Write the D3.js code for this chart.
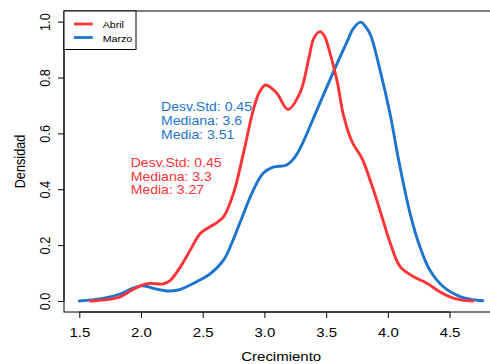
<!DOCTYPE html>
<html>
<head>
<meta charset="utf-8">
<script src="https://cdn.jsdelivr.net/npm/d3@7/dist/d3.min.js"></script>
<style>
  html, body { margin: 0; padding: 0; background: #fff; }
  svg { display: block; font-family: "Liberation Sans", Arial, Helvetica, sans-serif; }
</style>
</head>
<body>
<svg id="chart" width="490" height="364"></svg>
<script>
// Kernel density estimates of growth (Crecimiento), one curve per month
const seriesNames = ["Abril", "Marzo"];
const seriesColors = ["#FF3338", "#1C74CF"];

const abrilX = [1.59, 1.70, 1.83, 1.93, 2.01, 2.07, 2.18, 2.24, 2.32, 2.40, 2.48, 2.56, 2.61, 2.67, 2.75,
  2.83, 2.91, 2.96, 3.01, 3.10, 3.19, 3.29, 3.36, 3.40, 3.45, 3.49, 3.52, 3.59, 3.64, 3.71,
  3.79, 3.87, 3.91, 3.96, 4.02, 4.10, 4.21, 4.32, 4.42, 4.53, 4.60, 4.69];
const abrilY = [0.000, 0.004, 0.015, 0.040, 0.057, 0.063, 0.061, 0.075, 0.123, 0.183, 0.242, 0.266, 0.279, 0.302, 0.386,
  0.529, 0.684, 0.748, 0.773, 0.744, 0.686, 0.747, 0.869, 0.940, 0.964, 0.946, 0.905, 0.785, 0.666, 0.570,
  0.511, 0.415, 0.362, 0.290, 0.207, 0.123, 0.087, 0.063, 0.033, 0.010, 0.003, 0.000];

const marzoX = [1.50, 1.60, 1.70, 1.83, 1.93, 2.00, 2.05, 2.10, 2.18, 2.24, 2.32, 2.45, 2.56, 2.67, 2.74,
  2.80, 2.91, 2.99, 3.07, 3.18, 3.25, 3.30, 3.42, 3.56, 3.67, 3.72, 3.78, 3.82, 3.86, 3.94,
  4.02, 4.09, 4.18, 4.26, 4.34, 4.45, 4.59, 4.68, 4.77];
const marzoY = [0.000, 0.004, 0.010, 0.025, 0.045, 0.054, 0.052, 0.045, 0.038, 0.036, 0.042, 0.069, 0.097, 0.147, 0.212,
  0.278, 0.397, 0.457, 0.479, 0.487, 0.517, 0.556, 0.678, 0.821, 0.928, 0.975, 0.998, 0.982, 0.952, 0.821,
  0.666, 0.499, 0.314, 0.194, 0.111, 0.051, 0.015, 0.005, 0.001];

// Summary statistics printed next to each curve
const abrilStats = ["Desv.Std: 0.45", "Mediana: 3.3", "Media: 3.27"];
const marzoStats = ["Desv.Std: 0.45", "Mediana: 3.6", "Media: 3.51"];

const xTicks = [1.5, 2.0, 2.5, 3.0, 3.5, 4.0, 4.5];
const yTicks = [0.0, 0.2, 0.4, 0.6, 0.8, 1.0];
const xTitle = "Crecimiento";
const yTitle = "Densidad";

// Layout
const plot = { left: 64, right: 498.4, top: 11, bottom: 312 };
const SX = 1.18;          // horizontal glyph stretch
const axisFont = 12.7;

const svg = d3.select("#chart");

const x = d3.scaleLinear().domain([1.376, 4.896]).range([plot.left, plot.right]);
const y = d3.scaleLinear().domain([-0.0394, 1.038]).range([plot.bottom, plot.top]);

function label(g, px, py, str, size, anchor, color, rotate) {
  return g.append("text")
    .attr("transform", `translate(${px},${py}) scale(${SX},1)` + (rotate ? " rotate(-90)" : ""))
    .attr("text-anchor", anchor)
    .attr("font-size", size)
    .attr("fill", color)
    .text(str);
}

// Curves
const line = d3.line()
  .x(d => x(d[0]))
  .y(d => y(d[1]))
  .curve(d3.curveCatmullRom.alpha(0.5));

const curves = [
  { name: "Marzo", pts: d3.zip(marzoX, marzoY), color: seriesColors[1] },
  { name: "Abril", pts: d3.zip(abrilX, abrilY), color: seriesColors[0] }
];

svg.append("g").selectAll("path")
  .data(curves)
  .join("path")
  .attr("d", d => line(d.pts))
  .attr("fill", "none")
  .attr("stroke", d => d.color)
  .attr("stroke-width", 2.9)
  .attr("stroke-linejoin", "round")
  .attr("stroke-linecap", "round");

// Plot frame
svg.append("rect")
  .attr("x", plot.left).attr("y", plot.top)
  .attr("width", plot.right - plot.left).attr("height", plot.bottom - plot.top)
  .attr("fill", "none").attr("stroke", "#000").attr("stroke-width", 1);

// X axis
const xAxis = d3.axisBottom(x).tickValues(xTicks).tickSize(6).tickFormat(d3.format(".1f"));
const gx = svg.append("g").attr("transform", `translate(0,${plot.bottom})`).call(xAxis);
gx.select(".domain").attr("d", `M${x(xTicks[0])},0H${x(xTicks[xTicks.length - 1])}`).attr("stroke", "#000");
gx.selectAll(".tick line").attr("stroke", "#000");
gx.selectAll(".tick text").remove();
gx.selectAll(".tick").each(function (d) {
  label(d3.select(this), 0, 24.7, d3.format(".1f")(d), axisFont, "middle", "#000", false);
});

// Y axis
const yAxis = d3.axisLeft(y).tickValues(yTicks).tickSize(6);
const gy = svg.append("g").attr("transform", `translate(${plot.left},0)`).call(yAxis);
gy.select(".domain").attr("d", `M0,${y(yTicks[0])}V${y(yTicks[yTicks.length - 1])}`).attr("stroke", "#000");
gy.selectAll(".tick line").attr("stroke", "#000");
gy.selectAll(".tick text").remove();
gy.selectAll(".tick").each(function (d) {
  label(d3.select(this), -14, 0, d3.format(".1f")(d), axisFont, "middle", "#000", true);
});

// Axis titles
label(svg, (plot.left + plot.right) / 2, 360.7, xTitle, axisFont, "middle", "#000", false);
label(svg, 25, (plot.top + plot.bottom) / 2, yTitle, axisFont, "middle", "#000", true);

// Statistics annotations
const statFont = 11.9;
const statGap = 13.8;
abrilStats.forEach((s, i) => label(svg, 130.7, 166.7 + i * statGap, s, statFont, "start", seriesColors[0], false));
marzoStats.forEach((s, i) => label(svg, 161, 111 + i * statGap, s, statFont, "start", seriesColors[1], false));

// Legend
const legend = svg.append("g");
legend.append("rect")
  .attr("x", plot.left).attr("y", plot.top)
  .attr("width", 72).attr("height", 38.5)
  .attr("fill", "#fff").attr("stroke", "#000").attr("stroke-width", 1);
seriesNames.forEach((name, i) => {
  const ly = 24 + i * 13.5;
  legend.append("line")
    .attr("x1", 74).attr("x2", 92.7).attr("y1", ly).attr("y2", ly)
    .attr("stroke", seriesColors[i]).attr("stroke-width", 2.8);
  label(legend, 102.7, ly + 4.3, name, 9, "start", "#000", false);
});
</script>
</body>
</html>
